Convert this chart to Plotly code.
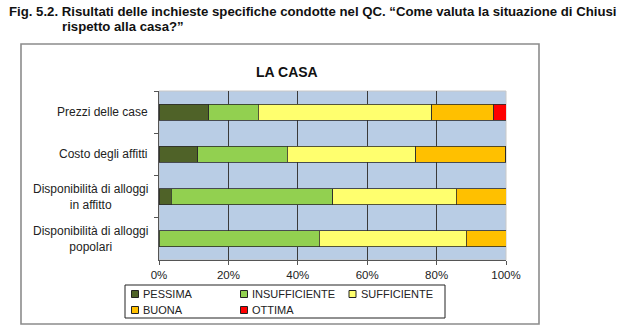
import plotly.graph_objects as go

categories = ["Prezzi delle case", "Costo degli affitti",
              "Disponibilità di alloggi<br>in affitto",
              "Disponibilità di alloggi<br>popolari"]
series_names = ["PESSIMA", "INSUFFICIENTE", "SUFFICIENTE", "BUONA", "OTTIMA"]
pessima = [0.143, 0.111, 0.036, 0.0]
insufficiente = [0.143, 0.259, 0.464, 0.462]
sufficiente = [0.500, 0.370, 0.357, 0.423]
buona = [0.179, 0.259, 0.143, 0.115]
ottima = [0.035, 0.0, 0.0, 0.0]
x_ticks = [0, 0.2, 0.4, 0.6, 0.8, 1.0]
x_tick_labels = ["0%", "20%", "40%", "60%", "80%", "100%"]

values = [pessima, insufficiente, sufficiente, buona, ottima]
colors = ["#4F6228", "#92D050", "#FFFF6E", "#FFC000", "#FF0000"]

W, H = 631, 336
L, R, T, B = 159, 125, 91, 76
PW, PH = W - L - R, H - T - B

def px(x):
    return (x - L) / PW

def py(y):
    return (H - B - y) / PH

FONT = "Liberation Sans, Arial, sans-serif"

fig = go.Figure()
for name, vals, col in zip(series_names, values, colors):
    fig.add_trace(go.Bar(
        y=categories, x=vals, name=name, orientation="h",
        marker=dict(color=col, line=dict(color="#2b2b2b", width=0.8)),
        showlegend=False, hoverinfo="x+y+name"))

fig.update_layout(
    width=W, height=H, barmode="stack", bargap=0.62,
    margin=dict(l=L, r=R, t=T, b=B),
    paper_bgcolor="white", plot_bgcolor="#B9CDE5",
    font=dict(family=FONT, size=11, color="#222"),
    xaxis=dict(range=[0, 1], tickvals=x_ticks, ticktext=x_tick_labels,
               showgrid=True, gridcolor="#3a3a3a", gridwidth=1,
               showline=True, linecolor="#555", linewidth=1,
               ticks="outside", ticklen=4, tickcolor="#555",
               tickfont=dict(size=11.5, color="#222"), zeroline=False,
               fixedrange=True),
    yaxis=dict(categoryorder="array", categoryarray=categories,
               autorange="reversed", showticklabels=False,
               showline=True, linecolor="#555", linewidth=1,
               ticks="outside", ticklen=4, tickcolor="#555",
               tickson="boundaries", showgrid=False, fixedrange=True),
)

# plot area light frame
fig.add_shape(type="rect", xref="paper", yref="paper", x0=0, x1=1, y0=0, y1=1,
              line=dict(color="#c8c8c8", width=1), layer="below")
# chart area border
fig.add_shape(type="rect", xref="paper", yref="paper",
              x0=px(21), x1=px(539), y0=py(324), y1=py(44),
              line=dict(color="#8c8c8c", width=1.6))

# category labels (centered multi-line)
for c in categories:
    fig.add_annotation(x=px(149), xref="paper", y=c, yref="y", text=c,
                       xanchor="right", yanchor="middle", align="center",
                       showarrow=False, borderpad=0,
                       font=dict(size=12, color="#222", family=FONT))

# chart title
fig.add_annotation(x=px(287), y=py(62), xref="paper", yref="paper",
                   text="<b>LA CASA</b>", showarrow=False,
                   font=dict(size=14, color="#111", family=FONT))

# figure caption
cap_font = dict(size=13.2, color="#111",
                family="Liberation Sans Narrow, Arial Narrow, Liberation Sans, Arial")
fig.add_annotation(x=px(7), y=py(11), xref="paper", yref="paper",
                   xanchor="left", yanchor="middle", showarrow=False,
                   text="<b>Fig. 5.2. Risultati delle inchieste specifiche condotte nel QC. “Come valuta la situazione di Chiusi</b>",
                   font=cap_font)
fig.add_annotation(x=px(60), y=py(26), xref="paper", yref="paper",
                   xanchor="left", yanchor="middle", showarrow=False,
                   text="<b>rispetto alla casa?”</b>", font=cap_font)

# legend (custom)
fig.add_shape(type="rect", xref="paper", yref="paper",
              x0=px(125), x1=px(445), y0=py(318), y1=py(285),
              line=dict(color="#222", width=1), fillcolor="white")
leg_pos = [(135, 294), (244, 294), (352.5, 294), (135, 310), (244, 310)]
for name, col, (cx, cy) in zip(series_names, colors, leg_pos):
    fig.add_shape(type="rect", xref="paper", yref="paper",
                  x0=px(cx - 3.5), x1=px(cx + 3.5), y0=py(cy + 3.5), y1=py(cy - 3.5),
                  line=dict(color="#222", width=1), fillcolor=col)
    fig.add_annotation(x=px(cx + 7), y=py(cy), xref="paper", yref="paper",
                       xanchor="left", yanchor="middle", text=name,
                       showarrow=False, borderpad=0,
                       font=dict(size=11, color="#222", family=FONT))

fig.write_html("out.html")
